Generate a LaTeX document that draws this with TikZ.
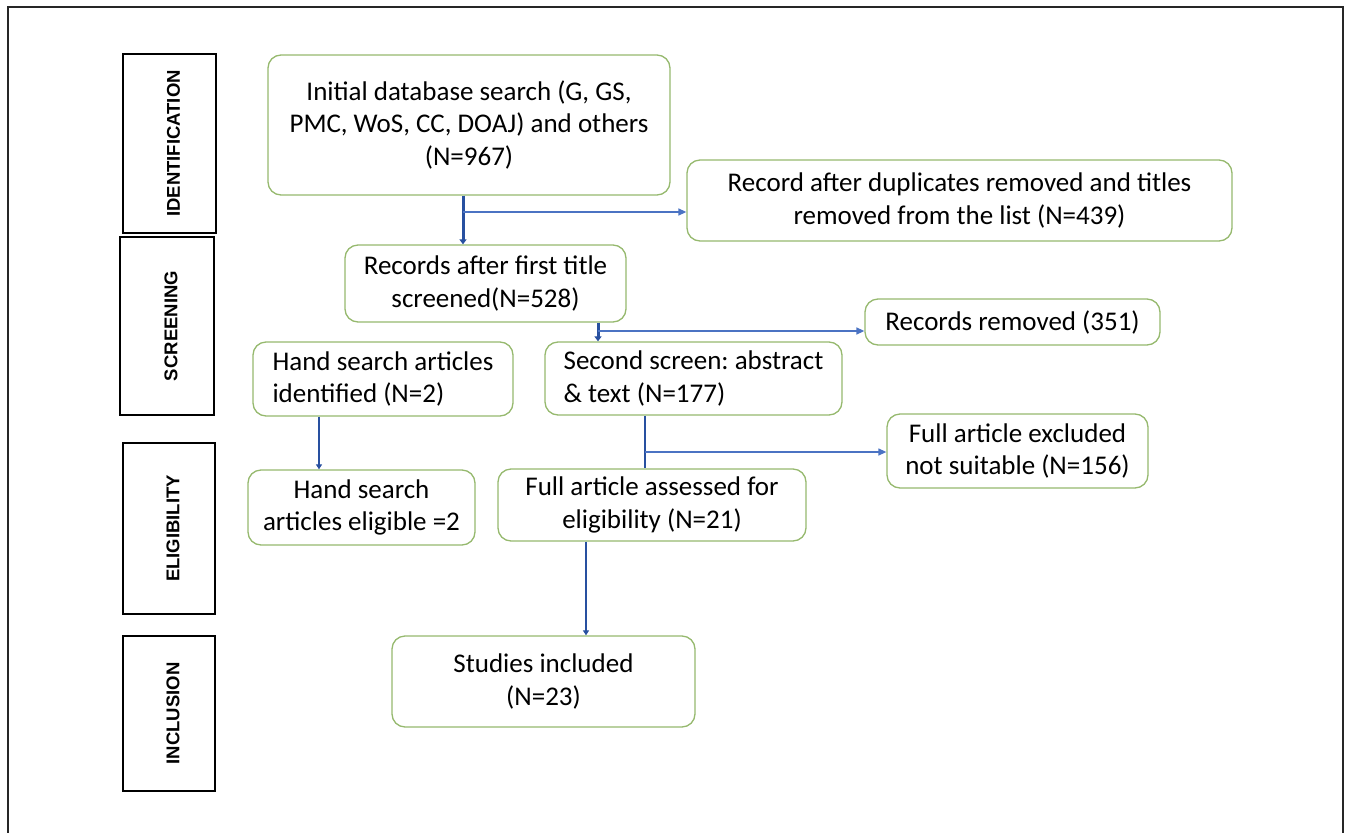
\documentclass[tikz,border=0pt]{standalone}
\usepackage{fontspec}
\setmainfont{Carlito}
\newfontfamily\phasefont{Liberation Sans}
\usetikzlibrary{arrows.meta}
\definecolor{boxgreen}{RGB}{150,185,110}
\definecolor{darkblue}{RGB}{40,80,160}
\definecolor{lightblue}{RGB}{75,115,195}
\tikzset{
  flowbox/.style={draw=boxgreen, line width=1.3pt, rounded corners=13pt, fill=white, inner sep=0pt, align=center, font=\fontsize{27}{32.5}\selectfont\frenchspacing},
  phasebox/.style={draw=black, line width=1.5pt, inner sep=0pt},
  phaselabel/.style={rotate=90, font=\phasefont\fontsize{18.5}{22}\selectfont\bfseries},
  mainarrow/.style={draw=darkblue, line width=3pt, -{Triangle[length=5pt,width=7pt]}},
  midarrow/.style={draw=darkblue, line width=2pt, -{Triangle[length=5pt,width=6pt]}},
  sidearrow/.style={draw=lightblue, line width=1.3pt, -{Triangle[length=8pt,width=7pt]}},
}
\begin{document}
\begin{tikzpicture}[x=1pt,y=-1pt]
\useasboundingbox (0,0) rectangle (1345,833);
% outer frame
\draw[line width=1.5pt, black!85] (8,833) -- (8,7) -- (1343,7) -- (1343,833);
% phase boxes
\node[phasebox, minimum width=93pt, minimum height=179pt] (pid) at (169.5,143.5) {};
\node[phaselabel] at ([xshift=4pt]pid.center) {IDENTIFICATION};
\node[phasebox, minimum width=94pt, minimum height=178pt] (psc) at (167,326) {};
\node[phaselabel] at ([xshift=4pt]psc.center) {SCREENING};
\node[phasebox, minimum width=92pt, minimum height=171pt] (pel) at (169,528.5) {};
\node[phaselabel] at ([xshift=4pt]pel.center) {ELIGIBILITY};
\node[phasebox, minimum width=92pt, minimum height=155pt] (pin) at (169,713.5) {};
\node[phaselabel] at ([xshift=4pt]pin.center) {INCLUSION};
% flow boxes
\node[flowbox, minimum width=402pt, minimum height=140pt] (init) at (469,125)
  {Initial database search (G, GS,\\ PMC, WoS, CC, DOAJ) and others\\ (N=967)};
\node[flowbox, minimum width=545pt, minimum height=81pt] (dup) at (959.5,200.5)
  {Record after duplicates removed and titles\\ removed from the list (N=439)};
\node[flowbox, minimum width=281pt, minimum height=77pt] (rec1) at (485.5,283.5)
  {Records after first title\\ screened(N=528)};
\node[flowbox, minimum width=295pt, minimum height=46pt] (rem) at (1012.5,322)
  {Records removed (351)};
\node[flowbox, minimum width=260pt, minimum height=74pt, align=left] (hand1) at (383,379)
  {Hand search articles\\ identified (N=2)};
\node[flowbox, minimum width=297pt, minimum height=73pt, align=left] (second) at (693.5,378.5)
  {Second screen: abstract\\ \& text (N=177)};
\node[flowbox, minimum width=261pt, minimum height=74pt] (excl) at (1017.5,451)
  {Full article excluded\\ not suitable (N=156)};
\node[flowbox, minimum width=227pt, minimum height=75pt] (hand2) at (361.5,507.5)
  {Hand search\\ articles eligible =2};
\node[flowbox, minimum width=308pt, minimum height=72pt] (full) at (652,505)
  {Full article assessed for\\ eligibility (N=21)};
\node[flowbox, minimum width=303pt, minimum height=91pt] (incl) at (543.5,681.5)
  {Studies included\\ (N=23)};
% connector guide coordinates
\coordinate (c1) at (463,212);
\coordinate (c2) at (598,331);
\coordinate (c3) at (319,0);
\coordinate (c4) at (645,452);
\coordinate (c5) at (586,0);
% connectors
\draw[mainarrow] (init.south -| c1) -- (rec1.north -| c1);
\draw[sidearrow] (c1) -- (dup.west |- c1);
\draw[mainarrow] (rec1.south -| c2) -- (second.north -| c2);
\draw[sidearrow] (c2) -- (rem.west |- c2);
\draw[midarrow] (hand1.south -| c3) -- (hand2.north -| c3);
\draw[midarrow, -] (second.south -| c4) -- (full.north -| c4);
\draw[sidearrow] (c4) -- (excl.west |- c4);
\draw[midarrow] (full.south -| c5) -- (incl.north -| c5);
\end{tikzpicture}
\end{document}
